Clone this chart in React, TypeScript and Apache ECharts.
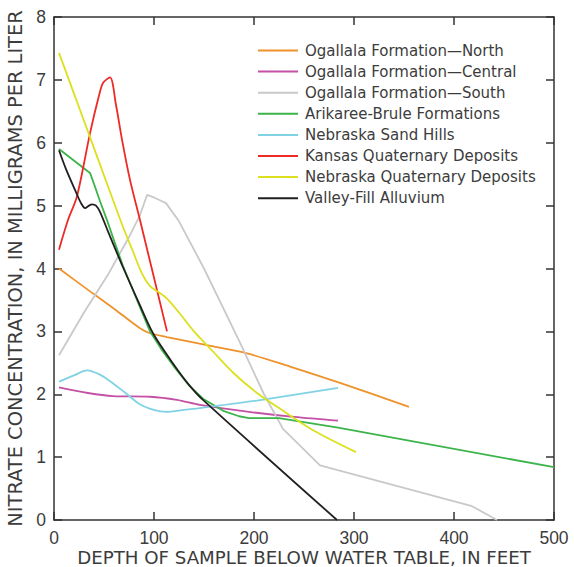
import React, { useEffect, useRef } from "react";
import * as echarts from "echarts";

// Depth below water table (ft) vs. nitrate concentration (mg/L)
const ogallalaNorth: number[][] = [
  [5, 4.0], [34, 3.66], [60, 3.36], [86, 3.05], [96, 2.97], [113, 2.91],
  [153, 2.78], [193, 2.65], [236, 2.44], [286, 2.18], [355, 1.8],
];
const ogallalaCentral: number[][] = [
  [5, 2.11], [34, 2.02], [59, 1.97], [96, 1.96], [123, 1.91], [146, 1.83],
  [195, 1.72], [240, 1.64], [284, 1.58],
];
const ogallalaSouth: number[][] = [
  [5, 2.62], [30, 3.3], [55, 3.93], [75, 4.5], [86, 4.85], [93, 5.17],
  [100, 5.13], [108, 5.07], [112, 5.04], [125, 4.75], [150, 4.0],
  [186, 2.82], [210, 2.0], [229, 1.45], [266, 0.87], [418, 0.22], [443, 0],
];
const arikareeBrule: number[][] = [
  [5, 5.9], [36, 5.52], [41, 5.3], [46, 5.07], [53, 4.77], [61, 4.4],
  [69, 4.04], [85, 3.42], [96, 3.0], [108, 2.7], [119, 2.46], [135, 2.14],
  [149, 1.93], [170, 1.73], [185, 1.65], [195, 1.62], [225, 1.62],
  [284, 1.47], [500, 0.84],
];
const sandHills: number[][] = [
  [5, 2.2], [20, 2.3], [33, 2.38], [45, 2.32], [55, 2.22], [70, 2.04],
  [85, 1.85], [100, 1.75], [112, 1.72], [130, 1.75], [146, 1.78],
  [203, 1.9], [284, 2.1],
];
const kansasQuaternary: number[][] = [
  [5, 4.3], [14, 4.77], [23, 5.15], [36, 6.15], [45, 6.75], [49, 6.95],
  [56, 7.04], [62, 6.6], [68, 6.05], [76, 5.41], [86, 4.77], [113, 3.0],
];
const nebraskaQuaternary: number[][] = [
  [5, 7.43], [30, 6.35], [59, 5.09], [70, 4.62], [79, 4.27], [88, 3.92],
  [96, 3.72], [105, 3.62], [113, 3.52], [125, 3.3], [140, 3.0], [159, 2.68],
  [180, 2.33], [203, 2.02], [225, 1.78], [260, 1.42], [302, 1.08],
];
const valleyFill: number[][] = [
  [5, 5.88], [12, 5.58], [21, 5.25], [27, 5.04], [31, 4.96], [35, 5.0],
  [38, 5.02], [42, 5.0], [46, 4.9], [55, 4.55], [69, 4.02], [85, 3.45],
  [99, 2.97], [119, 2.49], [135, 2.15], [149, 1.91], [283, 0],
];

const seriesNames = [
  "Ogallala Formation\u2014North",
  "Ogallala Formation\u2014Central",
  "Ogallala Formation\u2014South",
  "Arikaree-Brule Formations",
  "Nebraska Sand Hills",
  "Kansas Quaternary Deposits",
  "Nebraska Quaternary Deposits",
  "Valley-Fill Alluvium",
];
const seriesData = [
  ogallalaNorth, ogallalaCentral, ogallalaSouth, arikareeBrule,
  sandHills, kansasQuaternary, nebraskaQuaternary, valleyFill,
];
const seriesColors = [
  "#F0922B", "#C451A6", "#C9C9C9", "#3CB44A",
  "#80D2E4", "#EE2A26", "#DCE01E", "#231F20",
];
const seriesSmooth = [0.3, 0.3, false, false, 0.3, 0.3, 0.3, 0.3];

const xTicks = { min: 0, max: 500, interval: 100 };
const yTicks = { min: 0, max: 8, interval: 1 };

const TEXT_FONT = "DejaVu Sans";
const NUM_FONT = "Liberation Sans";
const INK = "#333";
const TEXT_INK = "#3c3c3c";

export default function App() {
  const ref = useRef<HTMLDivElement>(null);

  useEffect(() => {
    if (!ref.current) return;
    const chart = echarts.init(ref.current, null, { renderer: "svg" });

    const axisLine = { show: true, onZero: false, lineStyle: { color: INK, width: 1.5 } };
    const axisTick = { show: true, inside: true, length: 8, lineStyle: { color: INK, width: 1.5 } };
    const labelStyle = { color: TEXT_INK, fontSize: 17.5, fontFamily: NUM_FONT, lineHeight: 15 };

    chart.setOption({
      animation: false,
      backgroundColor: "#fff",
      grid: { left: 54, right: 20, top: 17, bottom: 47, outerBoundsMode: "none", containLabel: false },
      legend: {
        orient: "vertical",
        left: 253,
        top: 37,
        itemWidth: 40,
        itemHeight: 2,
        itemGap: 4.1,
        icon: "rect",
        data: seriesNames,
        textStyle: { color: TEXT_INK, fontSize: 15, fontFamily: TEXT_FONT, lineHeight: 17, padding: [0, 0, 0, 2] },
        selectedMode: false,
      },
      xAxis: [
        {
          type: "value",
          position: "bottom",
          ...xTicks,
          axisLine,
          axisTick,
          splitLine: { show: false },
          axisLabel: { ...labelStyle, margin: 10 },
          name: "DEPTH OF SAMPLE BELOW WATER TABLE, IN FEET",
          nameLocation: "middle",
          nameMoveOverlap: false,
          nameGap: 37,
          nameTextStyle: {
            color: TEXT_INK,
            fontSize: 18.2,
            fontFamily: TEXT_FONT,
            verticalAlign: "middle",
            lineHeight: 16,
          },
        },
        {
          type: "value",
          position: "top",
          ...xTicks,
          axisLine,
          axisTick,
          splitLine: { show: false },
          axisLabel: { show: false },
        },
      ],
      yAxis: [
        {
          type: "value",
          position: "left",
          ...yTicks,
          axisLine,
          axisTick,
          splitLine: { show: false },
          axisLabel: { ...labelStyle, margin: 8 },
          name: "NITRATE CONCENTRATION, IN MILLIGRAMS PER LITER",
          nameLocation: "middle",
          nameGap: 25,
          nameTextStyle: { color: TEXT_INK, fontSize: 19.4, fontFamily: TEXT_FONT },
        },
        {
          type: "value",
          position: "right",
          ...yTicks,
          axisLine,
          axisTick,
          splitLine: { show: false },
          axisLabel: { show: false },
        },
      ],
      series: seriesNames.map((name, i) => ({
        name,
        type: "line",
        data: seriesData[i],
        smooth: seriesSmooth[i],
        showSymbol: false,
        symbol: "none",
        color: seriesColors[i],
        lineStyle: { color: seriesColors[i], width: 1.8 },
        z: 3,
      })),
    });

    return () => chart.dispose();
  }, []);

  return (
    <div
      ref={ref}
      style={{ position: "absolute", left: 0, top: 0, width: 574, height: 567 }}
    />
  );
}
